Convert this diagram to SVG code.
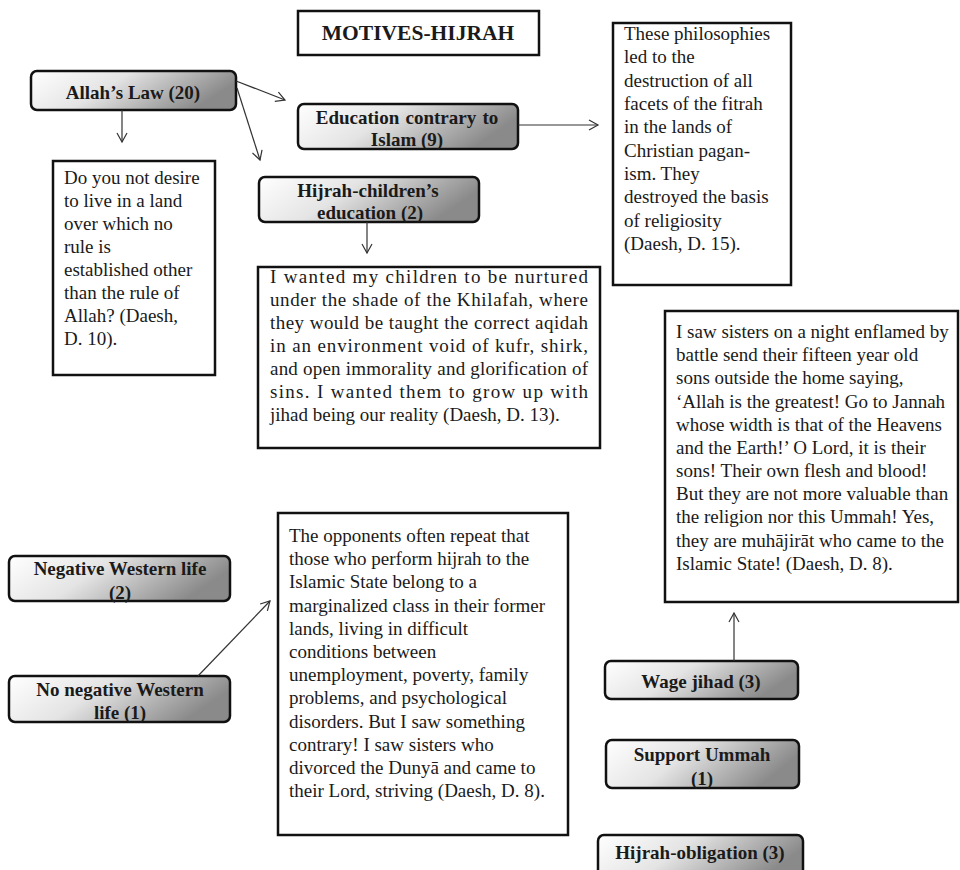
<svg xmlns="http://www.w3.org/2000/svg" width="960" height="870" viewBox="0 0 960 870">
<style>
text{font-family:"Liberation Serif","Times New Roman",serif;fill:#1a1a1a}
.lbl{font-size:19px;font-weight:bold;text-anchor:middle}
.body{font-size:19px}
.title{font-size:21.5px;font-weight:bold;text-anchor:middle}
.node{fill:url(#g);stroke:#111;stroke-width:2.5}
.box{fill:#fff;stroke:#111;stroke-width:2.5}
.conn line{stroke:#333;stroke-width:1.2;marker-end:url(#ah)}
</style>
<defs>
<linearGradient id="g" x1="0" y1="0" x2="1" y2="0.3">
<stop offset="0" stop-color="#ffffff"/>
<stop offset="0.45" stop-color="#e4e4e4"/>
<stop offset="1" stop-color="#8a8a8a"/>
</linearGradient>
<marker id="ah" markerWidth="12" markerHeight="12" refX="10" refY="6" orient="auto" markerUnits="userSpaceOnUse">
<path d="M1,1 L10,6 L1,11" fill="none" stroke="#333" stroke-width="1.2"/>
</marker>
</defs>
<rect width="960" height="870" fill="#fff"/>

<g id="title">
<rect x="298" y="11" width="241" height="44" fill="#fff" stroke="#111" stroke-width="2.5"/>
<text class="title" x="418" y="40">MOTIVES-HIJRAH</text>
</g>

<g id="allahs-law">
<rect class="node" x="31" y="71" width="205" height="39" rx="6"/>
<text class="lbl" x="133" y="99">Allah’s  Law (20)</text>
</g>

<g id="education">
<rect class="node" x="298" y="104" width="220" height="45" rx="6"/>
<text class="lbl" x="407" y="124" word-spacing="1.5">Education contrary to</text>
<text class="lbl" x="407" y="146">Islam (9)</text>
</g>

<g id="hijrah-children">
<rect class="node" x="259" y="177" width="220" height="45" rx="6"/>
<text class="lbl" x="368" y="197">Hijrah-children’s</text>
<text class="lbl" x="370" y="219">education (2)</text>
</g>

<g id="quote-d10">
<rect class="box" x="53" y="161" width="162" height="214"/>
<text class="body" x="64" y="184">Do you not desire</text>
<text class="body" x="64" y="207">to live in a land</text>
<text class="body" x="64" y="230">over which no</text>
<text class="body" x="64" y="253">rule is</text>
<text class="body" x="64" y="276">established other</text>
<text class="body" x="64" y="299">than the rule of</text>
<text class="body" x="64" y="322">Allah? (Daesh,</text>
<text class="body" x="64" y="345">D. 10).</text>
</g>

<g id="quote-d15">
<rect class="box" x="613" y="23" width="178" height="262"/>
<text class="body" x="624" y="40">These philosophies</text>
<text class="body" x="624" y="63">led to the</text>
<text class="body" x="624" y="87">destruction of all</text>
<text class="body" x="624" y="110">facets of the fitrah</text>
<text class="body" x="624" y="133">in the lands of</text>
<text class="body" x="624" y="157">Christian pagan-</text>
<text class="body" x="624" y="180">ism. They</text>
<text class="body" x="624" y="203">destroyed the basis</text>
<text class="body" x="624" y="227">of religiosity</text>
<text class="body" x="624" y="250">(Daesh, D. 15).</text>
</g>

<g id="quote-d13">
<rect class="box" x="258" y="267" width="342" height="181"/>
<text class="body" x="270" y="283" textLength="318" lengthAdjust="spacing">I wanted my children to be nurtured</text>
<text class="body" x="270" y="306" textLength="318" lengthAdjust="spacing">under the shade of the Khilafah, where</text>
<text class="body" x="270" y="329" textLength="318" lengthAdjust="spacing">they would be taught the correct aqidah</text>
<text class="body" x="270" y="352" textLength="318" lengthAdjust="spacing">in an environment void of kufr, shirk,</text>
<text class="body" x="270" y="375" textLength="318" lengthAdjust="spacing">and open immorality and glorification of</text>
<text class="body" x="270" y="398" textLength="318" lengthAdjust="spacing">sins. I wanted them to grow up with</text>
<text class="body" x="270" y="421">jihad being our reality (Daesh, D. 13).</text>
</g>

<g id="quote-d8-sisters">
<rect class="box" x="665" y="311" width="293" height="291"/>
<text class="body" x="676" y="338">I saw sisters on a night enflamed by</text>
<text class="body" x="676" y="361">battle send their fifteen year old</text>
<text class="body" x="676" y="384">sons outside the home saying,</text>
<text class="body" x="676" y="408">‘Allah is the greatest!  Go to Jannah</text>
<text class="body" x="676" y="431">whose width is that of the Heavens</text>
<text class="body" x="676" y="454">and the Earth!’ O Lord, it is their</text>
<text class="body" x="676" y="477">sons! Their own flesh and blood!</text>
<text class="body" x="676" y="500">But they are not more valuable than</text>
<text class="body" x="676" y="523">the religion nor this Ummah! Yes,</text>
<text class="body" x="676" y="547">they are muhājirāt who came to the</text>
<text class="body" x="676" y="570">Islamic State! (Daesh, D. 8).</text>
</g>

<g id="negative-western">
<rect class="node" x="9" y="556" width="221" height="45" rx="6"/>
<text class="lbl" x="120" y="575">Negative Western  life</text>
<text class="lbl" x="120" y="599">(2)</text>
</g>

<g id="no-negative-western">
<rect class="node" x="9" y="676" width="221" height="46" rx="6"/>
<text class="lbl" x="120" y="696">No negative Western</text>
<text class="lbl" x="120" y="719">life  (1)</text>
</g>

<g id="quote-d8-opponents">
<rect class="box" x="278" y="513" width="290" height="322"/>
<text class="body" x="289" y="542">The opponents often repeat that</text>
<text class="body" x="289" y="565">those who perform hijrah to the</text>
<text class="body" x="289" y="588">Islamic State belong to a</text>
<text class="body" x="289" y="612">marginalized  class in their former</text>
<text class="body" x="289" y="635">lands, living in difficult</text>
<text class="body" x="289" y="658">conditions between</text>
<text class="body" x="289" y="681">unemployment,  poverty,  family</text>
<text class="body" x="289" y="704">problems, and psychological</text>
<text class="body" x="289" y="728">disorders. But I saw something</text>
<text class="body" x="289" y="751">contrary!  I saw sisters who</text>
<text class="body" x="289" y="774">divorced the Dunyā and came to</text>
<text class="body" x="289" y="797">their Lord, striving (Daesh, D. 8).</text>
</g>

<g id="wage-jihad">
<rect class="node" x="605" y="661" width="193" height="38" rx="6"/>
<text class="lbl" x="701" y="688">Wage jihad  (3)</text>
</g>

<g id="support-ummah">
<rect class="node" x="606" y="740" width="193" height="48" rx="6"/>
<text class="lbl" x="702" y="761">Support  Ummah</text>
<text class="lbl" x="702" y="785">(1)</text>
</g>

<g id="hijrah-obligation">
<rect class="node" x="598" y="835" width="205" height="45" rx="6"/>
<text class="lbl" x="700" y="859">Hijrah-obligation  (3)</text>
</g>

<g id="connectors" class="conn">
<line x1="122" y1="110" x2="122" y2="142"/>
<line x1="236" y1="81" x2="285" y2="100"/>
<line x1="237" y1="88" x2="260" y2="160"/>
<line x1="518" y1="125" x2="598" y2="125"/>
<line x1="367" y1="222" x2="367" y2="253"/>
<line x1="198" y1="676" x2="270" y2="601"/>
<line x1="734" y1="661" x2="734" y2="613"/>
</g>
</svg>
